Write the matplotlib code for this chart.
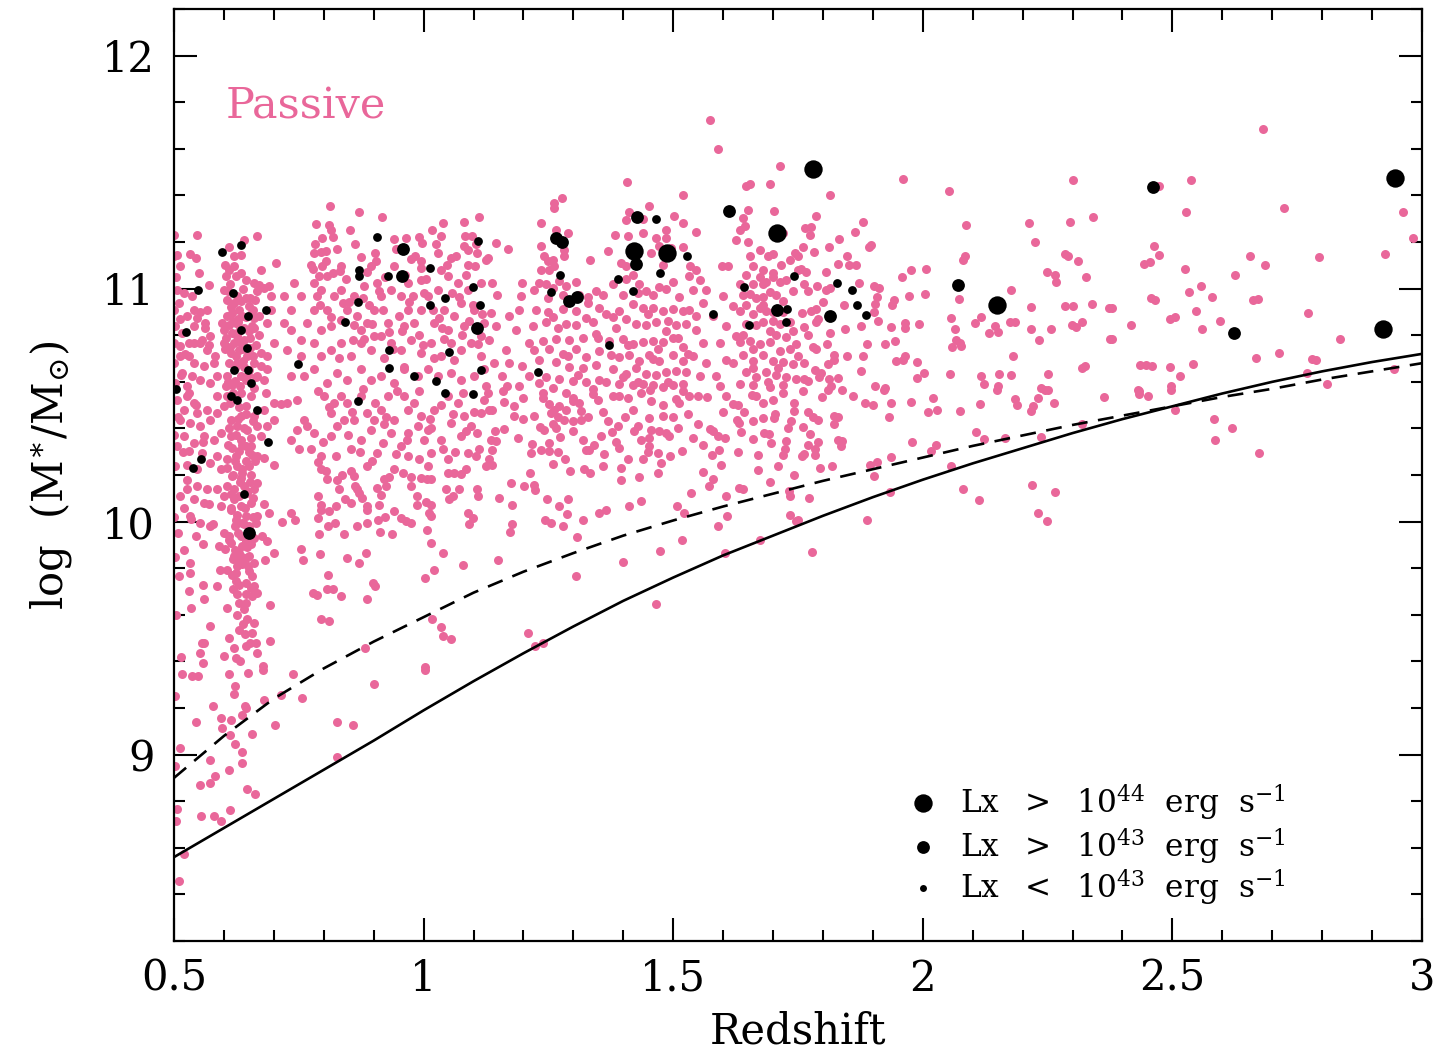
import matplotlib
matplotlib.use("Agg")
import matplotlib.pyplot as plt
import numpy as np
from matplotlib.ticker import FixedLocator, FixedFormatter, MultipleLocator

plt.rcParams["font.family"] = "DejaVu Serif"
plt.rcParams["mathtext.fontset"] = "dejavuserif"

PINK = "#e9679a"

# passive galaxies (redshift, log M*), grouped by redshift / mass range
passive_z05_hi = [
    (0.812, 11.356), (0.871, 11.328), (0.917, 11.308), (0.784, 11.279), (0.811, 11.275), (0.814, 11.253),
    (0.853, 11.250), (0.547, 11.232), (0.500, 11.232), (0.667, 11.225), (0.640, 11.210), (0.796, 11.217),
    (0.819, 11.222), (0.940, 11.215), (0.964, 11.218), (0.991, 11.222), (0.996, 11.196), (1.016, 11.250),
    (1.038, 11.282), (1.034, 11.225), (1.081, 11.285), (1.111, 11.308), (1.082, 11.225), (1.096, 11.227),
    (0.610, 11.177), (0.634, 11.143), (0.533, 11.150), (0.507, 11.146), (0.781, 11.153), (0.794, 11.156),
    (0.804, 11.160), (0.903, 11.153), (0.874, 11.136), (0.974, 11.127), (0.994, 11.117), (0.994, 11.089),
    (1.028, 11.153), (1.054, 11.132), (1.080, 11.182), (1.088, 11.167), (1.108, 11.153), (1.088, 11.103),
    (1.103, 11.096), (1.125, 11.125), (0.774, 11.103), (0.779, 11.085), (0.807, 11.053), (0.819, 11.067),
    (0.833, 11.074), (0.790, 11.053), (0.797, 11.096), (0.602, 11.100), (0.610, 11.082), (0.620, 11.096),
    (0.634, 11.067), (0.624, 11.053), (0.644, 11.039), (0.604, 11.053), (0.513, 11.096), (0.550, 11.067),
    (0.500, 11.139), (0.570, 11.017), (0.675, 11.082), (0.704, 11.110), (0.660, 11.024), (0.670, 11.017),
    (0.680, 11.003), (0.690, 11.010), (0.694, 10.967), (0.666, 10.989), (0.507, 10.996), (0.520, 10.981),
    (0.537, 10.967), (0.510, 10.939), (0.540, 10.910), (0.527, 10.881), (0.547, 10.874), (0.500, 10.910),
    (0.600, 10.996), (0.607, 10.953), (0.620, 10.939), (0.630, 10.910), (0.617, 10.896), (0.634, 10.946),
    (0.644, 10.960), (0.650, 10.924), (0.659, 10.910), (0.607, 10.881), (0.624, 10.853), (0.637, 10.881),
    (0.660, 10.874), (0.597, 10.853), (0.600, 10.824), (0.617, 10.810), (0.627, 10.796), (0.640, 10.781),
    (0.650, 10.817), (0.660, 10.831), (0.670, 10.803), (0.620, 10.767), (0.630, 10.738), (0.647, 10.710),
    (0.664, 10.760), (0.674, 10.724), (0.614, 10.724), (0.600, 10.767), (0.610, 10.681), (0.627, 10.681),
    (0.660, 10.681), (0.674, 10.667), (0.634, 10.624), (0.667, 10.624), (0.607, 10.624), (0.617, 10.588),
    (0.644, 10.610), (0.660, 10.574), (0.680, 10.610), (0.687, 10.653), (0.694, 10.910), (0.687, 10.853),
    (0.700, 10.767), (0.687, 10.710), (0.670, 10.881), (0.567, 10.910), (0.563, 10.853), (0.573, 10.796),
    (0.553, 10.767), (0.567, 10.738), (0.583, 10.710), (0.580, 10.681), (0.540, 10.767), (0.560, 10.667),
    (0.540, 10.681), (0.517, 10.638), (0.537, 10.624), (0.553, 10.610), (0.573, 10.595), (0.503, 10.595),
    (0.527, 10.581), (0.587, 10.624), (0.513, 10.710), (0.530, 10.710), (0.500, 10.767), (0.513, 10.753),
    (0.530, 10.767), (0.557, 10.781), (0.570, 10.760), (0.517, 10.810), (0.540, 10.839), (0.563, 10.831),
    (0.503, 10.839), (0.500, 10.681), (0.629, 10.855), (0.652, 10.745), (0.611, 10.842), (0.641, 10.662),
    (0.622, 10.603), (0.655, 10.893), (0.603, 10.741), (0.633, 10.771),
    (0.720, 10.853), (0.734, 10.824), (0.754, 10.781), (0.767, 10.853), (0.781, 10.910), (0.787, 10.967),
    (0.821, 10.967), (0.834, 10.996), (0.847, 10.910), (0.867, 10.881), (0.887, 10.853), (0.901, 10.910),
    (0.914, 10.967), (0.934, 10.996), (0.954, 10.967), (0.968, 10.910), (0.981, 10.853), (0.994, 10.910),
    (1.008, 10.967), (1.028, 10.996), (1.041, 10.910), (1.061, 10.881), (1.074, 10.939), (1.088, 10.996),
    (1.101, 10.910), (1.121, 10.853), (0.727, 10.738), (0.754, 10.710), (0.781, 10.767), (0.794, 10.710),
    (0.814, 10.738), (0.834, 10.767), (0.854, 10.710), (0.874, 10.767), (0.894, 10.738), (0.914, 10.796),
    (0.934, 10.767), (0.954, 10.738), (0.974, 10.781), (0.994, 10.724), (1.014, 10.767), (1.034, 10.710),
    (1.054, 10.767), (1.074, 10.738), (1.095, 10.767), (1.115, 10.710), (0.734, 10.624), (0.761, 10.624),
    (0.781, 10.653), (0.807, 10.595), (0.827, 10.638), (0.847, 10.610), (0.874, 10.653), (0.894, 10.610),
    (0.914, 10.624), (0.941, 10.595), (0.961, 10.653), (0.988, 10.624), (1.008, 10.653), (1.028, 10.624),
    (1.054, 10.638), (1.074, 10.610), (1.101, 10.624), (1.121, 10.653), (0.794, 10.824), (0.814, 10.839),
    (0.874, 10.824), (0.901, 10.796), (0.928, 10.853), (0.961, 10.839), (1.021, 10.853), (1.048, 10.824),
    (1.081, 10.839), (1.115, 10.796), (0.807, 10.910), (0.834, 10.867), (0.861, 10.967), (0.881, 11.010),
    (0.907, 11.024), (0.968, 11.024), (0.994, 11.039), (1.048, 11.053), (1.068, 11.024), (1.115, 11.024),
    (1.034, 11.082), (0.941, 11.096), (0.894, 11.096), (0.834, 11.096), (0.734, 10.910), (0.754, 10.967),
    (0.740, 11.024), (0.720, 10.967), (0.781, 11.024), (0.794, 10.996), (0.850, 10.942), (0.880, 10.783),
    (0.920, 10.702), (0.950, 10.884), (0.990, 10.803), (1.030, 10.872), (1.060, 10.694), (1.090, 10.861),
    (0.830, 10.703), (0.860, 10.842), (0.910, 10.991), (0.960, 10.662), (1.000, 10.983), (1.040, 10.782),
    (1.110, 10.762), (0.890, 10.931), (0.930, 10.812), (0.970, 10.943), (1.020, 10.701), (1.070, 10.962),
    (0.782, 11.19), (0.805, 11.12), (0.826, 11.17), (0.845, 11.04), (0.862, 11.19), (0.886, 11.07),
    (0.905, 11.12), (0.922, 11.05), (0.945, 11.17), (0.962, 11.06), (0.983, 11.14), (1.005, 11.04),
    (1.025, 11.19), (1.046, 11.10), (1.064, 11.14), (1.085, 11.06), (1.105, 11.19), (0.792, 10.93),
    (0.815, 10.88), (0.838, 10.94), (0.858, 10.78), (0.878, 10.96), (0.897, 10.85), (0.918, 10.91),
    (0.938, 10.74), (0.957, 10.82), (0.978, 10.97), (0.998, 10.76), (1.018, 10.91), (1.037, 10.83),
    (1.057, 10.98), (1.077, 10.80), (1.098, 10.93), (1.118, 10.89), (0.608, 10.99), (0.615, 10.92),
    (0.628, 10.87), (0.641, 10.83), (0.653, 10.79), (0.612, 10.75), (0.625, 10.71), (0.638, 10.69),
    (0.651, 10.65), (0.664, 10.62), (0.505, 11.05), (0.512, 10.87), (0.522, 10.72), (0.552, 10.90),
    (0.545, 11.13), (0.613, 11.02), (0.626, 10.97), (0.639, 11.00), (0.652, 10.96), (0.618, 10.86),
    (0.631, 10.82), (0.645, 10.88), (0.656, 10.84), (0.604, 10.79), (0.637, 10.74), (0.659, 10.71),
    (0.622, 10.66), (0.648, 10.63), (0.609, 10.60), (0.633, 10.58), (0.662, 10.95), (0.621, 11.14),
]

passive_z05_mid = [
    (0.545, 9.938), (0.559, 9.906), (0.579, 9.988), (0.590, 9.897), (0.603, 9.883), (0.610, 9.938),
    (0.615, 9.909), (0.622, 9.980), (0.634, 9.938), (0.644, 9.916), (0.655, 9.906), (0.660, 9.930),
    (0.677, 9.938), (0.687, 9.916), (0.700, 9.866), (0.682, 9.837), (0.620, 9.852), (0.630, 9.837),
    (0.637, 9.816), (0.644, 9.844), (0.627, 9.809), (0.650, 9.787), (0.657, 9.766), (0.655, 9.716),
    (0.660, 9.723), (0.624, 9.744), (0.619, 9.709), (0.626, 9.691), (0.607, 9.794), (0.592, 9.791),
    (0.587, 9.723), (0.533, 9.823), (0.533, 9.780), (0.510, 9.766), (0.530, 9.702), (0.535, 9.630),
    (0.559, 9.730), (0.560, 9.666), (0.607, 9.630), (0.644, 9.651), (0.640, 9.623), (0.667, 9.694),
    (0.692, 9.644), (0.572, 9.551), (0.610, 9.501), (0.630, 9.537), (0.642, 9.516), (0.657, 9.523),
    (0.620, 9.458), (0.644, 9.465), (0.664, 9.480), (0.667, 9.437), (0.692, 9.487), (0.557, 9.480),
    (0.561, 9.477), (0.553, 9.437), (0.559, 9.394), (0.600, 9.425), (0.624, 9.415), (0.679, 9.380),
    (0.717, 9.998), (0.734, 10.035), (0.742, 10.006), (0.754, 9.883), (0.759, 9.835), (0.788, 10.255),
    (0.794, 10.224), (0.804, 10.216), (0.806, 10.184), (0.788, 10.109), (0.794, 10.073), (0.788, 10.016),
    (0.790, 9.949), (0.794, 10.052), (0.810, 10.045), (0.824, 10.066), (0.831, 10.138), (0.808, 9.980),
    (0.822, 9.995), (0.841, 9.949), (0.792, 9.859), (0.808, 9.773), (0.807, 9.709), (0.819, 9.709),
    (0.834, 9.680), (0.779, 9.694), (0.787, 9.687), (0.794, 9.580), (0.810, 9.573), (0.837, 10.202),
    (0.827, 10.178), (0.842, 10.095), (0.847, 9.845), (0.871, 9.823), (0.862, 10.155), (0.867, 10.141),
    (0.871, 10.123), (0.877, 10.102), (0.886, 10.069), (0.887, 10.052), (0.855, 10.081), (0.867, 9.980),
    (0.886, 9.995), (0.885, 9.866), (0.887, 9.666), (0.899, 9.737), (0.903, 9.723), (0.860, 10.195),
    (0.907, 10.145), (0.921, 10.184), (0.931, 10.192), (0.924, 10.152), (0.909, 10.009), (0.922, 10.020),
    (0.913, 9.956), (0.914, 10.116), (0.911, 10.073), (0.941, 10.045), (0.937, 9.945), (0.954, 10.016),
    (0.964, 10.002), (0.975, 9.995), (0.959, 10.209), (0.974, 10.192), (0.975, 10.155), (0.994, 10.188),
    (1.007, 10.184), (1.014, 10.181), (0.987, 10.109), (1.004, 10.083), (1.014, 10.073), (1.011, 10.038),
    (1.014, 10.023), (0.986, 10.073), (1.007, 9.966), (1.014, 9.909), (1.038, 9.866), (1.021, 9.794),
    (1.002, 9.759), (1.017, 9.583), (1.034, 9.548), (1.038, 9.508), (1.054, 9.497), (1.002, 9.377),
    (1.048, 10.209), (1.044, 10.138), (1.051, 10.095), (1.071, 10.141), (1.058, 10.112), (1.074, 10.206),
    (1.084, 10.224), (1.088, 10.035), (1.098, 10.016), (1.091, 9.988), (1.108, 10.138), (1.109, 10.112),
    (1.078, 9.812), (0.883, 9.458),
    (0.507, 10.524), (0.527, 10.538), (0.540, 10.510), (0.520, 10.481), (0.547, 10.467), (0.567, 10.481),
    (0.513, 10.438), (0.533, 10.424), (0.553, 10.410), (0.573, 10.438), (0.587, 10.467), (0.600, 10.495),
    (0.607, 10.538), (0.587, 10.538), (0.634, 10.553), (0.654, 10.538), (0.644, 10.495), (0.660, 10.453),
    (0.634, 10.453), (0.614, 10.438), (0.627, 10.410), (0.647, 10.395), (0.667, 10.410), (0.687, 10.410),
    (0.700, 10.438), (0.680, 10.481), (0.700, 10.510), (0.714, 10.503), (0.684, 10.553), (0.594, 10.381),
    (0.614, 10.367), (0.634, 10.352), (0.654, 10.324), (0.674, 10.367), (0.580, 10.352), (0.560, 10.367),
    (0.540, 10.338), (0.520, 10.367), (0.507, 10.324), (0.530, 10.302), (0.557, 10.295), (0.587, 10.281),
    (0.607, 10.267), (0.624, 10.281), (0.644, 10.260), (0.667, 10.281), (0.680, 10.274), (0.700, 10.245),
    (0.503, 10.238), (0.527, 10.245), (0.547, 10.224), (0.573, 10.252), (0.594, 10.224), (0.627, 10.238),
    (0.617, 10.195), (0.634, 10.188), (0.654, 10.202), (0.667, 10.167), (0.607, 10.152), (0.587, 10.138),
    (0.567, 10.138), (0.547, 10.152), (0.527, 10.138), (0.513, 10.109), (0.540, 10.095), (0.560, 10.081),
    (0.600, 10.109), (0.620, 10.095), (0.634, 10.066), (0.654, 10.081), (0.680, 10.074), (0.690, 10.038),
    (0.667, 10.024), (0.644, 10.024), (0.614, 10.052), (0.594, 10.066), (0.570, 10.074), (0.520, 10.059),
    (0.533, 10.024), (0.553, 9.995), (0.573, 9.981), (0.600, 9.952), (0.617, 10.317), (0.630, 10.302),
    (0.644, 10.324), (0.657, 10.288), (0.637, 10.224), (0.650, 10.238), (0.620, 10.138), (0.640, 10.152),
    (0.630, 10.109), (0.647, 10.124), (0.660, 10.138), (0.624, 10.009), (0.637, 9.995), (0.650, 9.981),
    (0.664, 9.995), (0.637, 9.895), (0.630, 9.866), (0.650, 9.852), (0.660, 9.823), (0.624, 9.780),
    (0.644, 9.738), (0.657, 9.680), (0.630, 9.652), (0.647, 9.580), (0.660, 9.566),
    (0.727, 10.510), (0.747, 10.524), (0.761, 10.438), (0.767, 10.410), (0.750, 10.310), (0.774, 10.310),
    (0.781, 10.381), (0.801, 10.538), (0.821, 10.510), (0.814, 10.467), (0.827, 10.410), (0.841, 10.438),
    (0.847, 10.510), (0.861, 10.438), (0.874, 10.538), (0.887, 10.467), (0.901, 10.438), (0.914, 10.481),
    (0.928, 10.538), (0.907, 10.295), (0.918, 10.338), (0.941, 10.438), (0.961, 10.538), (0.981, 10.510),
    (0.994, 10.453), (1.008, 10.395), (1.021, 10.481), (1.048, 10.538), (1.068, 10.510), (1.081, 10.453),
    (1.095, 10.410), (1.108, 10.381), (1.115, 10.467), (1.001, 10.352), (0.988, 10.410), (1.034, 10.352),
    (1.054, 10.424), (1.074, 10.367), (1.088, 10.295), (1.105, 10.281), (1.048, 10.267), (1.008, 10.238),
    (0.968, 10.281), (0.954, 10.324), (0.934, 10.381), (0.874, 10.352), (0.854, 10.310), (0.814, 10.367),
    (0.794, 10.281), (0.747, 10.395), (0.734, 10.352), (0.887, 10.238), (0.854, 10.217), (0.941, 10.224),
    (0.894, 10.395), (0.968, 10.381), (1.014, 10.295), (1.061, 10.210), (1.125, 10.238),
    (0.605, 10.58), (0.618, 10.55), (0.631, 10.49), (0.645, 10.46), (0.658, 10.43), (0.611, 10.40),
    (0.624, 10.37), (0.637, 10.33), (0.650, 10.30), (0.663, 10.26), (0.606, 10.23), (0.619, 10.20),
    (0.633, 10.17), (0.646, 10.13), (0.659, 10.10), (0.614, 10.06), (0.627, 10.03), (0.640, 9.99),
    (0.653, 9.96), (0.610, 9.92), (0.623, 9.88), (0.636, 9.85), (0.649, 9.81), (0.617, 9.77),
    (0.631, 9.73), (0.644, 9.69), (0.626, 9.60), (0.639, 9.56), (0.652, 9.48), (0.633, 9.40),
    (0.531, 10.55), (0.508, 10.45), (0.518, 10.30), (0.527, 10.18), (0.535, 10.01), (0.509, 9.95),
    (0.521, 9.88), (0.515, 10.63), (0.545, 10.50), (0.558, 10.34), (0.500, 10.37), (0.500, 10.02),
    (0.503, 9.85), (0.505, 9.60), (0.514, 9.42),
    (0.788, 10.56), (0.811, 10.49), (0.834, 10.54), (0.856, 10.47), (0.879, 10.57), (0.902, 10.51),
    (0.925, 10.45), (0.946, 10.56), (0.969, 10.48), (0.991, 10.56), (1.012, 10.44), (1.035, 10.50),
    (1.058, 10.46), (1.079, 10.55), (1.101, 10.47), (1.121, 10.52), (0.798, 10.34), (0.825, 10.28),
    (0.848, 10.37), (0.872, 10.30), (0.897, 10.26), (0.921, 10.42), (0.944, 10.29), (0.967, 10.35),
    (0.991, 10.27), (1.015, 10.40), (1.038, 10.31), (1.062, 10.30), (1.085, 10.39), (1.112, 10.31),
    (0.612, 10.51), (0.628, 10.44), (0.641, 10.40), (0.655, 10.36), (0.609, 10.33), (0.622, 10.26),
    (0.636, 10.21), (0.652, 10.17), (0.615, 10.12), (0.642, 10.06), (0.658, 10.02), (0.629, 9.95),
    (0.618, 9.84), (0.646, 9.89),
]

passive_z05_lo = [
    (0.517, 9.344), (0.537, 9.339), (0.548, 9.336), (0.610, 9.344), (0.622, 9.296), (0.679, 9.365),
    (0.739, 9.344), (1.002, 9.365), (0.901, 9.301), (0.715, 9.258), (0.757, 9.242), (0.680, 9.236),
    (0.579, 9.210), (0.642, 9.208), (0.545, 9.140), (0.595, 9.158), (0.614, 9.150), (0.597, 9.115),
    (0.637, 9.168), (0.612, 9.083), (0.657, 9.090), (0.702, 9.126), (0.827, 9.139), (0.859, 9.126),
    (0.512, 9.029), (0.622, 9.046), (0.637, 9.010), (0.572, 8.976), (0.637, 8.964), (0.503, 8.950),
    (0.610, 8.932), (0.583, 8.907), (0.573, 8.879), (0.552, 8.870), (0.646, 8.854), (0.662, 8.829),
    (0.827, 8.989), (0.507, 8.767), (0.505, 8.713), (0.555, 8.736), (0.581, 8.738), (0.595, 8.714),
    (0.612, 8.764), (0.520, 8.574), (0.510, 8.457), (0.648, 9.35), (0.621, 9.26), (0.645, 9.20),
    (0.503, 9.25),
]

passive_z11_hi = [
    (1.573, 11.722), (1.589, 11.600), (1.713, 11.525), (1.262, 11.368), (1.277, 11.389), (1.262, 11.346),
    (1.407, 11.458), (1.452, 11.356), (1.520, 11.403), (1.645, 11.439), (1.654, 11.450), (1.693, 11.450),
    (1.702, 11.332), (1.649, 11.339), (1.639, 11.303), (1.643, 11.268), (1.633, 11.250), (1.626, 11.210),
    (1.411, 11.328), (1.406, 11.296), (1.409, 11.225), (1.439, 11.299), (1.501, 11.310), (1.519, 11.282),
    (1.546, 11.242), (1.486, 11.250), (1.466, 11.218), (1.383, 11.232), (1.265, 11.250), (1.145, 11.196),
    (1.130, 11.132), (1.170, 11.170), (1.235, 11.182), (1.242, 11.139), (1.249, 11.117), (1.259, 11.125),
    (1.262, 11.096), (1.252, 11.082), (1.235, 11.082), (1.282, 11.167), (1.282, 11.139), (1.333, 11.125),
    (1.396, 11.110), (1.406, 11.096), (1.456, 11.153), (1.472, 11.182), (1.486, 11.217), (1.496, 11.175),
    (1.534, 11.096), (1.546, 11.082), (1.532, 11.053), (1.598, 11.099), (1.609, 11.099), (1.653, 11.139),
    (1.673, 11.167), (1.690, 11.139), (1.659, 11.096), (1.679, 11.082), (1.699, 11.067), (1.716, 11.103),
    (1.733, 11.125), (1.743, 11.153),
    (1.138, 11.024), (1.148, 10.974), (1.135, 10.896), (1.145, 10.838), (1.132, 10.781), (1.165, 10.738),
    (1.142, 10.681), (1.158, 10.624), (1.125, 10.581), (1.168, 10.581), (1.192, 10.581), (1.198, 11.024),
    (1.195, 10.967), (1.192, 10.910), (1.172, 10.881), (1.185, 10.824), (1.212, 10.767), (1.172, 10.681),
    (1.198, 10.667), (1.222, 10.738), (1.219, 10.838), (1.225, 10.910), (1.232, 10.695), (1.212, 10.624),
    (1.232, 10.595), (1.222, 10.996), (1.232, 11.024),
    (1.245, 11.021), (1.259, 11.004), (1.272, 11.031), (1.285, 11.012), (1.305, 11.027), (1.249, 10.961),
    (1.279, 10.972), (1.305, 10.905), (1.279, 10.914), (1.259, 10.878), (1.245, 10.857), (1.285, 10.849),
    (1.305, 10.843), (1.325, 10.876), (1.339, 10.858), (1.345, 10.805), (1.319, 10.786), (1.292, 10.778),
    (1.265, 10.785), (1.239, 10.776), (1.252, 10.742), (1.279, 10.720), (1.305, 10.743), (1.325, 10.706),
    (1.352, 10.734), (1.265, 10.686), (1.292, 10.662), (1.319, 10.658), (1.345, 10.671), (1.245, 10.619),
    (1.272, 10.614), (1.299, 10.605), (1.325, 10.599), (1.352, 10.606), (1.259, 10.572), (1.339, 10.571),
    (1.329, 10.962), (1.345, 10.991), (1.312, 10.971), (1.352, 10.915),
    (1.379, 11.019), (1.406, 11.043), (1.432, 11.020), (1.446, 10.991), (1.459, 10.972), (1.472, 11.006),
    (1.486, 10.999), (1.499, 11.029), (1.512, 10.962), (1.399, 10.971), (1.419, 10.934), (1.439, 10.915),
    (1.459, 10.919), (1.479, 10.905), (1.499, 10.914), (1.519, 10.906), (1.392, 10.905), (1.406, 10.871),
    (1.426, 10.849), (1.446, 10.843), (1.466, 10.857), (1.486, 10.820), (1.506, 10.842), (1.526, 10.848),
    (1.386, 10.829), (1.372, 10.777), (1.399, 10.785), (1.419, 10.762), (1.439, 10.771), (1.459, 10.776),
    (1.479, 10.771), (1.499, 10.786), (1.519, 10.748), (1.392, 10.706), (1.412, 10.714), (1.432, 10.691),
    (1.452, 10.714), (1.472, 10.690), (1.499, 10.715), (1.519, 10.691), (1.379, 10.657), (1.406, 10.633),
    (1.426, 10.658), (1.446, 10.633), (1.466, 10.628), (1.486, 10.642), (1.506, 10.648), (1.526, 10.643),
    (1.392, 10.591), (1.419, 10.585), (1.439, 10.590), (1.459, 10.585), (1.479, 10.577), (1.499, 10.586),
    (1.519, 10.590), (1.365, 10.599), (1.375, 10.714), (1.365, 10.891), (1.359, 10.972),
    (1.539, 10.996), (1.553, 11.039), (1.532, 10.910), (1.546, 10.881), (1.559, 10.939), (1.566, 10.996),
    (1.546, 10.824), (1.559, 10.767), (1.539, 10.710), (1.566, 10.681), (1.553, 10.624), (1.586, 10.624),
    (1.593, 10.581), (1.606, 10.695), (1.593, 10.767), (1.606, 10.838), (1.599, 10.967), (1.619, 10.924),
    (1.626, 10.796), (1.619, 10.681), (1.579, 10.881),
    (1.633, 11.021), (1.646, 11.057), (1.659, 11.019), (1.673, 11.049), (1.686, 11.029), (1.699, 11.048),
    (1.713, 11.028), (1.726, 11.035), (1.740, 10.991), (1.639, 10.972), (1.653, 10.977), (1.666, 10.958),
    (1.679, 10.962), (1.693, 10.986), (1.706, 10.972), (1.720, 10.948), (1.633, 10.905), (1.646, 10.929),
    (1.659, 10.891), (1.673, 10.915), (1.686, 10.906), (1.699, 10.901), (1.713, 10.849), (1.733, 10.858),
    (1.646, 10.848), (1.666, 10.843), (1.679, 10.857), (1.693, 10.819), (1.706, 10.801), (1.726, 10.791),
    (1.633, 10.772), (1.653, 10.776), (1.673, 10.762), (1.693, 10.771), (1.713, 10.733), (1.733, 10.743),
    (1.746, 10.762), (1.639, 10.714), (1.659, 10.690), (1.679, 10.715), (1.699, 10.691), (1.720, 10.686),
    (1.740, 10.676), (1.646, 10.643), (1.666, 10.619), (1.686, 10.642), (1.706, 10.628), (1.726, 10.619),
    (1.746, 10.614), (1.633, 10.591), (1.659, 10.586), (1.693, 10.576), (1.720, 10.586),
    (1.235, 11.28), (1.290, 11.24), (1.250, 10.90), (1.270, 10.83), (1.290, 10.71), (1.310, 10.63),
    (1.330, 10.94), (1.350, 10.79), (1.380, 10.88), (1.410, 10.76), (1.430, 10.98), (1.450, 10.89),
    (1.470, 10.74), (1.490, 10.86), (1.510, 10.79), (1.530, 10.72), (1.400, 10.62), (1.430, 10.60),
    (1.460, 10.70), (1.490, 10.60), (1.370, 11.16), (1.440, 11.24), (1.520, 11.18), (1.420, 11.06),
    (1.480, 11.10), (1.640, 10.80), (1.660, 10.74), (1.680, 10.93), (1.700, 10.86), (1.720, 10.90),
    (1.740, 10.82), (1.660, 10.66), (1.690, 10.60), (1.710, 10.66), (1.750, 10.71), (1.770, 10.80),
    (1.790, 10.87), (1.680, 11.02), (1.700, 11.15), (1.650, 11.20), (1.720, 11.24), (1.760, 11.18),
]

passive_z11_lo = [
    (1.465, 9.646), (1.210, 9.523), (1.224, 9.468), (1.239, 9.477), (1.305, 9.766), (1.149, 9.836),
    (1.399, 9.827), (1.474, 9.876), (1.517, 9.922), (1.604, 9.867), (1.674, 9.922), (1.307, 9.933),
    (1.174, 9.956), (1.178, 9.988), (1.151, 10.102), (1.177, 10.073), (1.202, 10.152), (1.222, 10.159),
    (1.224, 10.135), (1.176, 10.166), (1.247, 10.095), (1.272, 10.069), (1.289, 10.098), (1.287, 10.032),
    (1.244, 10.009), (1.255, 9.995), (1.280, 9.980), (1.320, 10.009), (1.352, 10.035), (1.365, 10.049),
    (1.411, 10.066), (1.436, 10.088), (1.396, 10.178), (1.395, 10.231), (1.432, 10.192), (1.508, 10.069),
    (1.522, 10.035), (1.536, 10.123), (1.560, 10.212), (1.572, 10.152), (1.580, 10.184), (1.606, 10.112),
    (1.607, 10.023), (1.589, 9.980), (1.632, 10.145), (1.640, 10.138), (1.693, 10.172), (1.731, 10.133),
    (1.734, 10.112), (1.734, 10.030), (1.745, 10.002), (1.741, 10.200), (1.214, 10.209),
    (1.162, 10.514), (1.181, 10.495), (1.182, 10.455), (1.132, 10.481), (1.138, 10.481), (1.144, 10.388),
    (1.135, 10.352), (1.145, 10.345), (1.138, 10.309), (1.132, 10.267), (1.137, 10.245), (1.162, 10.398),
    (1.222, 10.455), (1.252, 10.503), (1.255, 10.467), (1.262, 10.481), (1.272, 10.495), (1.285, 10.481),
    (1.300, 10.517), (1.312, 10.510), (1.315, 10.474), (1.282, 10.438), (1.299, 10.431), (1.315, 10.438),
    (1.233, 10.407), (1.242, 10.395), (1.259, 10.417), (1.265, 10.402), (1.273, 10.364), (1.217, 10.335),
    (1.216, 10.295), (1.235, 10.307), (1.252, 10.302), (1.252, 10.338), (1.269, 10.298), (1.284, 10.269),
    (1.260, 10.249), (1.293, 10.216), (1.320, 10.349), (1.325, 10.309), (1.332, 10.309), (1.342, 10.327),
    (1.322, 10.224), (1.333, 10.209), (1.355, 10.367), (1.377, 10.384), (1.362, 10.292), (1.385, 10.341),
    (1.391, 10.317), (1.404, 10.450), (1.422, 10.388), (1.429, 10.412), (1.435, 10.352), (1.439, 10.267),
    (1.451, 10.445), (1.456, 10.395), (1.452, 10.360), (1.451, 10.324), (1.472, 10.388), (1.486, 10.381),
    (1.492, 10.367), (1.480, 10.452), (1.469, 10.295), (1.476, 10.252), (1.494, 10.281), (1.456, 10.517),
    (1.454, 10.567), (1.506, 10.527), (1.511, 10.510), (1.518, 10.302), (1.532, 10.538), (1.549, 10.538),
    (1.567, 10.536), (1.574, 10.398), (1.579, 10.388), (1.589, 10.367), (1.604, 10.360), (1.578, 10.284),
    (1.592, 10.307), (1.596, 10.241), (1.606, 10.541), (1.619, 10.503), (1.627, 10.438), (1.631, 10.424),
    (1.641, 10.470), (1.636, 10.385), (1.658, 10.545), (1.665, 10.541), (1.659, 10.355), (1.679, 10.445),
    (1.701, 10.445), (1.703, 10.460), (1.681, 10.381), (1.691, 10.378), (1.696, 10.338), (1.669, 10.288),
    (1.725, 10.345), (1.723, 10.312), (1.719, 10.288), (1.736, 10.431), (1.741, 10.474), (1.741, 10.510),
    (1.379, 10.538), (1.392, 10.538), (1.409, 10.531), (1.435, 10.553), (1.339, 10.546), (1.285, 10.553),
    (1.299, 10.531), (1.130, 10.550), (1.160, 10.560), (1.200, 10.530), (1.240, 10.550), (1.360, 10.470),
    (1.370, 10.430), (1.530, 10.460), (1.550, 10.420), (1.500, 10.450), (1.600, 10.470), (1.680, 10.510),
    (1.720, 10.550), (1.190, 10.360), (1.200, 10.440), (1.560, 10.330), (1.630, 10.300), (1.670, 10.220),
    (1.710, 10.240), (1.470, 10.210), (1.360, 10.240), (1.410, 10.270),
    (1.240, 10.53), (1.270, 10.45), (1.300, 10.39), (1.330, 10.45), (1.350, 10.52), (1.520, 10.56),
    (1.420, 10.48), (1.450, 10.30), (1.480, 10.50), (1.510, 10.40), (1.540, 10.36), (1.390, 10.41),
    (1.630, 10.50), (1.660, 10.43), (1.700, 10.52), (1.730, 10.40), (1.760, 10.56), (1.780, 10.45),
]

passive_z18_hi = [
    (1.960, 11.470), (2.052, 11.419), (2.301, 11.465), (1.815, 11.403), (1.786, 11.310), (1.765, 11.260),
    (1.777, 11.264), (1.775, 11.232), (1.880, 11.284), (1.864, 11.244), (1.833, 11.214), (1.892, 11.179),
    (1.897, 11.189), (1.812, 11.177), (1.782, 11.156), (1.849, 11.139), (1.831, 11.106), (1.853, 11.103),
    (1.867, 11.101), (2.086, 11.273), (2.213, 11.283), (2.294, 11.286), (2.340, 11.307), (2.224, 11.201),
    (2.081, 11.121), (2.084, 11.139), (2.284, 11.150), (2.290, 11.139), (2.310, 11.118), (2.249, 11.071),
    (2.264, 11.058), (2.266, 11.027), (2.326, 11.051), (1.750, 11.139), (1.750, 11.081), (1.757, 11.084),
    (1.767, 11.071), (1.806, 11.073), (1.762, 11.021), (1.788, 11.010), (1.976, 11.081), (2.007, 11.083),
    (1.959, 11.050), (1.872, 11.023), (1.815, 11.001), (1.807, 10.995), (1.770, 10.991), (1.902, 11.013),
    (1.913, 11.004), (1.908, 10.965), (1.904, 10.935), (1.903, 10.900), (1.973, 10.970), (1.942, 10.952),
    (1.938, 10.931), (2.004, 10.978), (1.801, 10.944), (1.843, 10.930), (1.777, 10.905), (1.786, 10.914),
    (1.758, 10.895), (1.787, 10.857), (1.763, 10.835), (1.845, 10.828), (1.815, 10.810), (1.877, 10.838),
    (1.910, 10.861), (1.937, 10.837), (1.964, 10.852), (1.965, 10.831), (1.992, 10.848), (1.809, 10.761),
    (1.780, 10.748), (1.787, 10.741), (1.822, 10.717), (1.849, 10.709), (1.880, 10.711), (1.889, 10.761),
    (1.924, 10.762), (1.944, 10.775), (1.964, 10.709), (1.960, 10.692), (1.947, 10.688), (1.989, 10.686),
    (1.763, 10.681), (1.811, 10.677), (1.823, 10.695), (1.785, 10.652), (1.797, 10.638), (1.877, 10.648),
    (2.002, 10.638), (1.988, 10.615), (1.763, 10.612), (1.770, 10.602), (1.793, 10.619), (1.813, 10.612),
    (1.830, 10.616), (1.817, 10.581), (1.904, 10.583), (1.925, 10.572), (2.056, 10.875), (2.072, 10.954),
    (2.117, 10.878), (2.104, 10.852), (2.064, 10.827), (2.132, 10.810), (2.151, 10.812), (2.144, 10.838),
    (2.176, 10.996), (2.175, 10.857), (2.185, 10.857), (2.216, 10.921), (2.217, 10.827), (2.257, 10.828),
    (2.233, 10.781), (2.284, 10.927), (2.300, 10.924), (2.338, 10.935), (2.298, 10.845), (2.306, 10.835),
    (2.319, 10.855), (2.372, 10.917), (2.374, 10.785), (2.067, 10.781), (2.074, 10.767), (2.058, 10.750),
    (2.077, 10.752), (2.181, 10.709), (2.054, 10.634), (2.116, 10.624), (2.153, 10.634), (2.177, 10.631),
    (2.251, 10.634), (2.324, 10.666), (2.318, 10.659), (2.123, 10.592), (2.151, 10.581), (2.237, 10.573),
]

passive_z18_lo = [
    (1.799, 10.536), (1.811, 10.564), (1.839, 10.567), (1.860, 10.538), (1.884, 10.510), (1.900, 10.501),
    (1.922, 10.564), (1.937, 10.510), (1.976, 10.513), (2.020, 10.530), (2.010, 10.470), (2.029, 10.477),
    (2.074, 10.474), (2.115, 10.507), (2.149, 10.567), (2.185, 10.528), (2.189, 10.501), (2.217, 10.474),
    (2.221, 10.498), (2.231, 10.531), (2.244, 10.563), (2.251, 10.563), (2.263, 10.511), (2.363, 10.536),
    (1.770, 10.471), (1.790, 10.438), (1.823, 10.452), (1.831, 10.448), (1.822, 10.421), (1.932, 10.447),
    (1.761, 10.405), (1.775, 10.378), (1.790, 10.341), (1.771, 10.327), (1.785, 10.312), (1.785, 10.288),
    (1.762, 10.291), (1.758, 10.281), (1.830, 10.352), (1.838, 10.345), (1.837, 10.324), (1.795, 10.231),
    (1.818, 10.238), (1.978, 10.341), (2.027, 10.327), (2.017, 10.301), (2.107, 10.384), (2.123, 10.355),
    (2.165, 10.360), (2.236, 10.362), (2.318, 10.421), (1.937, 10.277), (1.894, 10.245), (1.908, 10.255),
    (1.902, 10.195), (2.057, 10.238), (1.934, 10.129), (1.772, 10.100), (2.080, 10.142), (2.113, 10.092),
    (2.219, 10.159), (2.265, 10.126), (2.231, 10.038), (2.249, 10.002), (1.888, 10.005), (1.750, 10.005),
    (1.778, 9.870),
]

passive_z24 = [
    (2.682, 11.685), (2.474, 11.442), (2.537, 11.465), (2.527, 11.330), (2.724, 11.347), (2.962, 11.329),
    (2.981, 11.216), (2.464, 11.184), (2.474, 11.144), (2.444, 11.104), (2.456, 11.113), (2.656, 11.141),
    (2.685, 11.101), (2.794, 11.134), (2.925, 11.150), (2.526, 11.083), (2.625, 11.060), (2.379, 10.917),
    (2.458, 10.960), (2.465, 10.953), (2.533, 10.984), (2.557, 11.010), (2.579, 10.965), (2.661, 10.950),
    (2.671, 10.954), (2.771, 10.897), (2.418, 10.842), (2.379, 10.785), (2.496, 10.868), (2.505, 10.880),
    (2.548, 10.904), (2.559, 10.828), (2.596, 10.860), (2.836, 10.784), (2.667, 10.704), (2.713, 10.724),
    (2.780, 10.698), (2.788, 10.692), (2.943, 10.656), (2.769, 10.638), (2.810, 10.592), (2.436, 10.674),
    (2.447, 10.671), (2.459, 10.669), (2.495, 10.662), (2.542, 10.677), (2.515, 10.624), (2.432, 10.566),
    (2.498, 10.580), (2.434, 10.560), (2.434, 10.546), (2.452, 10.541), (2.497, 10.567), (2.505, 10.481),
    (2.583, 10.441), (2.619, 10.401), (2.586, 10.352), (2.673, 10.295),
]

# X-ray detected AGN hosts, split by luminosity class
agn_bright_z = [1.781, 1.421, 1.488, 1.708, 2.149, 2.945, 2.921]
agn_bright_m = [11.515, 11.163, 11.153, 11.239, 10.931, 11.475, 10.825]

agn_mid_z = [0.958, 0.956, 1.106, 0.650, 1.427, 1.612, 1.265, 1.277, 1.425, 1.292, 1.307,
             1.708, 1.814, 2.070, 2.462, 2.624]
agn_mid_m = [11.170, 11.053, 10.831, 9.952, 11.306, 11.334, 11.217, 11.199, 11.107, 10.948, 10.962,
             10.910, 10.884, 11.015, 11.435, 10.808]

agn_faint_z = [0.504, 0.525, 0.549, 0.597, 0.635, 0.619, 0.684, 0.648, 0.635, 0.647, 0.620, 0.648,
               0.655, 0.748, 0.907, 0.871, 0.871, 0.929, 0.869, 0.842, 1.013, 1.013, 1.042, 1.110,
               1.098, 1.113, 1.051, 0.931, 0.931, 0.981, 1.024, 1.116, 0.615, 0.627, 0.667, 0.689,
               0.555, 0.538, 0.640, 0.869, 1.042, 1.098, 1.466, 1.528, 1.273, 1.389, 1.474, 1.419,
               1.256, 1.579, 1.642, 1.741, 1.727, 1.725, 1.652, 1.372, 1.229, 1.829, 1.858, 1.869,
               1.886]
agn_faint_m = [10.570, 10.812, 10.995, 11.156, 11.189, 10.981, 10.910, 10.881, 10.821, 10.745, 10.652, 10.652,
               10.595, 10.678, 11.220, 11.081, 11.053, 11.056, 10.943, 10.857, 11.088, 10.928, 10.960, 11.206,
               11.007, 10.931, 10.727, 10.738, 10.659, 10.626, 10.602, 10.649, 10.538, 10.521, 10.481, 10.342,
               10.270, 10.231, 10.119, 10.517, 10.553, 10.546, 11.300, 11.139, 11.060, 11.041, 11.067, 10.991,
               10.984, 10.890, 11.007, 11.053, 10.914, 10.857, 10.845, 10.757, 10.641, 11.024, 10.994, 10.930,
               10.885]

# mass completeness limits
limit_z = [0.5, 0.6, 0.7, 0.8, 0.9, 1.0, 1.1, 1.2, 1.3, 1.4, 1.5, 1.6, 1.7,
           1.8, 1.9, 2.0, 2.1, 2.2, 2.3, 2.4, 2.5, 2.6, 2.7, 2.8, 2.9, 3.0]
limit_solid = [8.56, 8.685, 8.81, 8.935, 9.06, 9.19, 9.315, 9.435, 9.55, 9.66, 9.76, 9.855, 9.94,
               10.025, 10.105, 10.18, 10.25, 10.315, 10.38, 10.44, 10.495, 10.55, 10.60, 10.645, 10.685, 10.72]
limit_dashed = [8.90, 9.08, 9.24, 9.37, 9.485, 9.59, 9.695, 9.785, 9.865, 9.94, 10.005, 10.065, 10.12,
                10.175, 10.225, 10.275, 10.325, 10.37, 10.415, 10.455, 10.495, 10.535, 10.57, 10.61, 10.645, 10.68]

x_ticks = [0.5, 1.0, 1.5, 2.0, 2.5, 3.0]
x_labels = ["0.5", "1", "1.5", "2", "2.5", "3"]
y_ticks = [9, 10, 11, 12]
y_labels = ["9", "10", "11", "12"]

legend_labels = [r"Lx  $>$  $10^{44}$  erg  $\mathrm{s}^{-1}$",
                 r"Lx  $>$  $10^{43}$  erg  $\mathrm{s}^{-1}$",
                 r"Lx  $<$  $10^{43}$  erg  $\mathrm{s}^{-1}$"]


passive = np.array(passive_z05_hi + passive_z05_mid + passive_z05_lo + passive_z11_hi
                   + passive_z11_lo + passive_z18_hi + passive_z18_lo + passive_z24)

fig = plt.figure(figsize=(14.39, 10.52), dpi=100)
ax = fig.add_axes([0.1209, 0.1055, 0.8673, 0.8859])

ax.scatter(passive[:, 0], passive[:, 1], s=42, c=PINK, linewidths=0, zorder=2)

ax.plot(limit_z, limit_solid, color="black", lw=1.9, zorder=3)
ax.plot(limit_z, limit_dashed, color="black", lw=1.9, ls=(0, (6, 4)), zorder=3)

ax.scatter(agn_faint_z, agn_faint_m, s=40, c="black", linewidths=0, zorder=4)
ax.scatter(agn_mid_z, agn_mid_m, s=85, c="black", linewidths=0, zorder=4)
ax.scatter(agn_bright_z, agn_bright_m, s=175, c="black", linewidths=0, zorder=4)

ax.set_xlim(0.5, 3.0)
ax.set_ylim(8.2, 12.2)

ax.xaxis.set_major_locator(FixedLocator(x_ticks))
ax.xaxis.set_major_formatter(FixedFormatter(x_labels))
ax.xaxis.set_minor_locator(MultipleLocator(0.1))
ax.yaxis.set_major_locator(FixedLocator(y_ticks))
ax.yaxis.set_major_formatter(FixedFormatter(y_labels))
ax.yaxis.set_minor_locator(MultipleLocator(0.2))

ax.tick_params(which="both", direction="in", top=True, right=True, width=1.5, color="black")
ax.tick_params(which="major", length=16.5, labelsize=30)
ax.tick_params(which="minor", length=8)
ax.tick_params(axis="x", which="major", pad=12)
ax.tick_params(axis="y", which="major", pad=14)
for sp in ax.spines.values():
    sp.set_linewidth(1.6)

ax.set_xlabel("Redshift", fontsize=30, labelpad=8)
ax.set_ylabel(r"log  (M$^{\ast}$/M$_{\odot}$)", fontsize=30, labelpad=20)

ax.text(0.041, 0.883, "Passive", transform=ax.transAxes, color=PINK, fontsize=31)

# legend drawn by hand: markers then labels
leg_y = [0.148, 0.101, 0.057]
leg_s = [175, 85, 25]
for yy, ss, lab in zip(leg_y, leg_s, legend_labels):
    ax.scatter([0.600], [yy], s=ss, c="black", linewidths=0, transform=ax.transAxes, zorder=5)
    ax.text(0.630, yy, lab, transform=ax.transAxes, fontsize=22.5, va="center", ha="left")

fig.savefig("out.png", dpi=100)
